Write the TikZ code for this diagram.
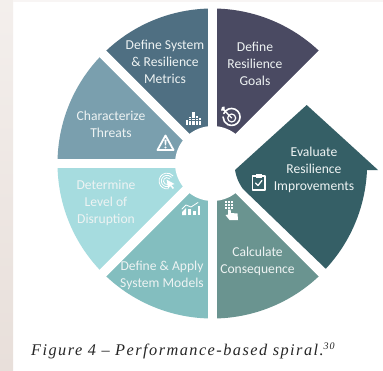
\documentclass[tikz,border=0pt]{standalone}
\usepackage{fontspec}
\setmainfont{Carlito}
\usetikzlibrary{calc}
\newfontfamily\capfont[LetterSpace=9]{Liberation Serif}
\definecolor{cGoal}{HTML}{4A4A62}
\definecolor{cEval}{HTML}{355F66}
\definecolor{cCons}{HTML}{6A9490}
\definecolor{cModel}{HTML}{83BEBF}
\definecolor{cDisr}{HTML}{A6DCDF}
\definecolor{cThreat}{HTML}{7A9FAE}
\definecolor{cMetric}{HTML}{4F6F82}
\definecolor{cEdge}{HTML}{E8DFDA}
\definecolor{cLabel}{HTML}{EEF3F3}
\tikzset{
 x=1pt,y=-1pt,
 seclabel/.style={text=cLabel,font=\fontsize{13.6}{17}\selectfont,align=center,inner sep=0pt,anchor=center},
 icon/.style={draw=white,line width=1pt,line cap=round,line join=round},
 iconfill/.style={fill=white,draw=none},
 gapline/.style={draw=white,line width=9.5pt}
}
\newcommand{\sectr}[3]{\fill[#1] (212.5,163.5) -- ($(212.5,163.5)+(#2:155)$) arc[start angle=#2,end angle=#3,radius=155] -- cycle;}
\begin{document}
\begin{tikzpicture}
\useasboundingbox (0,0) rectangle (383,370);
\fill[white] (0,0) rectangle (383,370);
\shade[top color=cEdge!50!white,bottom color=cEdge] (0,0) rectangle (13,370);
\fill[cEdge!30!white] (13,0) rectangle (383,2);
\coordinate (c) at (212.5,163.5);
\sectr{cGoal}{-90}{-45}
\sectr{cCons}{45}{90}
\sectr{cModel}{90}{135}
\sectr{cDisr}{135}{180}
\sectr{cThreat}{180}{225}
\sectr{cMetric}{225}{270}
\foreach \a in {-90,-45,45,90,135,180,225}
  \draw[gapline] (c) -- ($(c)+(\a:158)$);
\fill[white] (c) circle[radius=37.5];
% arrow-shaped evaluate sector
\fill[cEval] (235,170) -- (306.7,105) -- (378,170) -- (367,170)
  arc[start angle=2.4,end angle=42.9,radius=154.6] -- (243,189)
  to[bend left=12] cycle;
% labels
\node[seclabel] (metrics) at (165,62) {Define System\\\& Resilience\\Metrics};
\node[seclabel] (goals) at (255,63.5) {Define\\Resilience\\Goals};
\node[seclabel] (eval) at (314,169.5) {Evaluate\\Resilience\\Improvements};
\node[seclabel] (cons) at (257.5,261.5) {Calculate\\Consequence};
\node[seclabel] (models) at (162,275) {Define \& Apply\\System Models};
\node[seclabel] (disr) at (106,203) {Determine\\Level of\\Disruption};
\node[seclabel] (threat) at (111,124.5) {Characterize\\Threats};
% bars icon
\foreach \x/\h in {187/5,190.2/8,193.4/13,196.6/9,199.8/7}
  \draw[white,line width=2.2pt,dash pattern=on 1.8pt off .5pt] (\x,125) -- (\x,125-\h);
% target icon
\draw[icon,line width=1.6pt] (223.8,113.5) arc[start angle=-156,end angle=180,radius=8.5];
\draw[icon,line width=1.2pt] (231.7,118) circle[radius=4];
\draw[icon,line width=1.3pt] (231.7,118) -- (223,109);
\fill[white] (221,110.5) -- (224.5,110.5) -- (224.5,106.5) -- (222,107) -- cycle;
% warning icon
\draw[icon,line width=1.8pt] (165.5,135.5) -- (173.5,150) -- (157.5,150) -- cycle;
\fill[white] (164.4,139.5) -- (166.6,139.5) -- (166.1,145.3) -- (164.9,145.3) -- cycle;
\fill[white] (165.5,147.4) circle[radius=1.1];
% touch icon
\foreach \r in {3.5,5.7,7.9}
  \draw[icon,line width=.8pt] (167,181) ++(80:\r) arc[start angle=80,end angle=320,radius=\r];
\fill[white] (166.5,179.5) -- (174.5,184) -- (171.5,185) -- (174,188) -- (172.8,189) -- (170.3,186) -- (168.2,188.5) -- cycle;
% chart icon
\fill[white] (182,215) -- (182,212) -- (186,208) -- (186,215) -- cycle;
\fill[white] (188,215) rectangle (191,209);
\fill[white] (193,215) rectangle (196,211);
\fill[white] (197.5,215) rectangle (199.5,206);
\draw[icon,line width=.8pt] (182,209) -- (186,205) -- (191,207) -- (198,202.5);
% hand icon
\foreach \x in {225,228,231} \foreach \y in {200.5,203.5,206.5}
  \fill[white] (\x,\y) rectangle ++(2.2,2.2);
\fill[white] (228,209.5) -- (230.6,209.5) -- (231,213) -- (237.5,213.5) -- (238,220) -- (229.5,220) -- (225.5,215) -- (228,214.5) -- cycle;
% clipboard icon
\draw[icon,line width=1.2pt] (252.5,176) rectangle (265,190);
\fill[white] (255.5,174) rectangle (262,177.5);
\draw[icon,line width=1.2pt] (255.5,183) -- (258,185.5) -- (262,180.5);
% caption
\node[inner sep=0pt,anchor=base west,text=black!85] (caption) at (31,355)
  {\fontsize{16.3}{18}\selectfont\capfont\itshape Figure 4 – Performance-based spiral.\raisebox{5.5pt}{\fontsize{10}{11}\selectfont 30}};
\end{tikzpicture}
\end{document}
